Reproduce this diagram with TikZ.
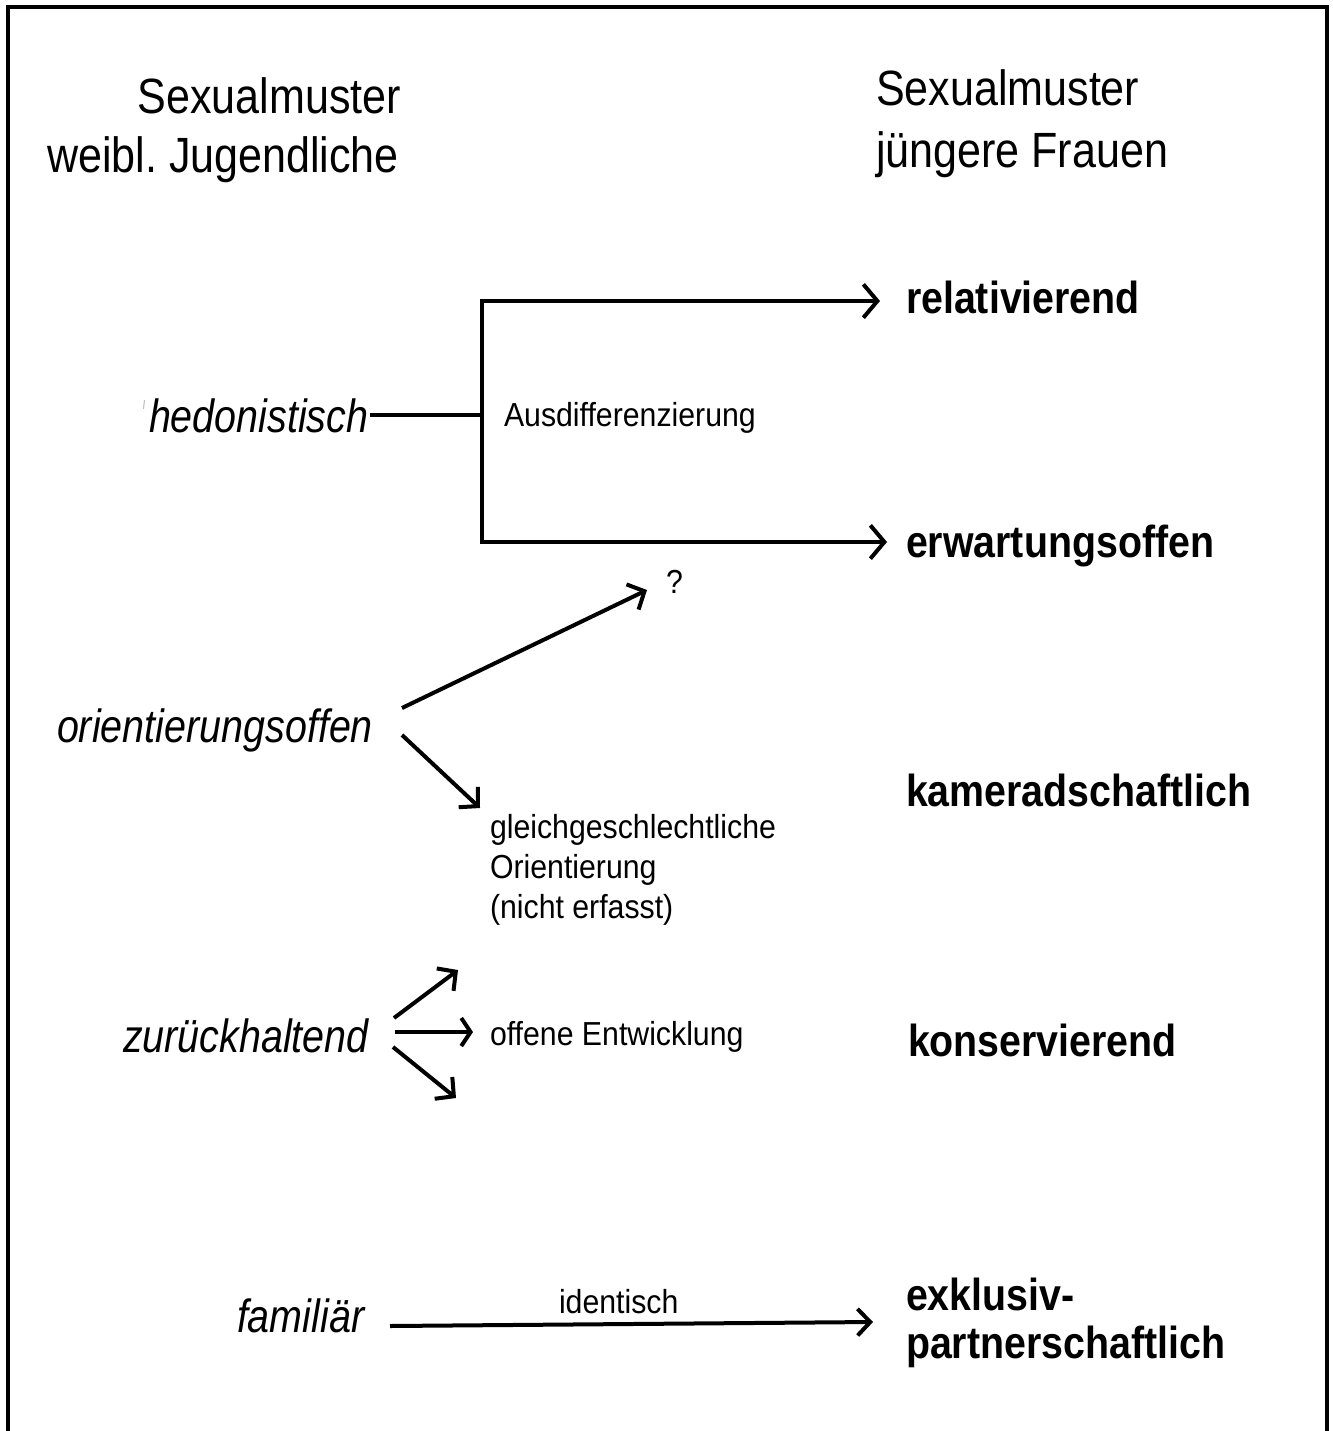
\documentclass[tikz,border=0pt]{standalone}
\usepackage{fontspec}
\setmainfont{Liberation Sans}
\usetikzlibrary{arrows.meta}
\frenchspacing
\begin{document}
\begin{tikzpicture}[x=0.75pt,y=-0.75pt,
  line width=3pt,
  hdr/.style={inner sep=0pt,yscale=1.15,transform shape,font=\fontsize{32.3pt}{38pt}\selectfont},
  lft/.style={inner sep=0pt,yscale=1.18,transform shape,font=\fontsize{29.6pt}{35pt}\selectfont\itshape,anchor=base west},
  rgt/.style={inner sep=0pt,yscale=1.14,transform shape,font=\fontsize{29.5pt}{35pt}\selectfont\bfseries,anchor=base west},
  sml/.style={inner sep=0pt,yscale=1.1,transform shape,font=\fontsize{22.7pt}{27pt}\selectfont,anchor=base west},
  bigtip/.style={-{Straight Barb[length=10.5pt,width=25pt]}},
  ltip/.style={-{Straight Barb[length=10pt,width=21pt]}},
  stip/.style={-{Straight Barb[length=7pt,width=21pt]}},
  ftip/.style={-{Straight Barb[length=9.5pt,width=20pt]}}
]
\useasboundingbox (0,0) rectangle (1333,1431);
% frame
\draw (7.5,1436) -- (7.5,7) -- (1326.5,7) -- (1326.5,1436);

% headers
\node[hdr,anchor=base east] (hl1) at (403,113) {Sexualmuster};
\node[hdr,anchor=base east] (hl2) at (401,172) {weibl. Jugendliche};
\node[hdr,anchor=base west] (hr1) at (874,105) {Sexualmuster};
\node[hdr,anchor=base west] (hr2) at (874,167) {jüngere Frauen};

% left column
\node[lft] (hed) at (147,432) {hedonistisch};
\node[lft] (ori) at (55,742) {orientierungsoffen};
\node[lft] (zur) at (121,1052) {zurückhaltend};
\node[lft] (fam) at (235,1332) {familiär};
\draw[gray!50,line width=0.8pt] (144.5,400) -- (143.5,409);

% right column
\node[rgt] (rel) at (904,313) {relativierend};
\node[rgt] (erw) at (904,557) {erwartungsoffen};
\node[rgt] (kam) at (904,806) {kameradschaftlich};
\node[rgt] (kon) at (906,1056) {konservierend};
\node[rgt] (exk1) at (904,1310) {exklusiv-};
\node[rgt] (exk2) at (904,1358) {partnerschaftlich};

% middle labels
\node[sml] (aus) at (502,426) {Ausdifferenzierung};
\node[sml] (q) at (664,593) {?};
\node[sml] (gl1) at (488,838) {gleichgeschlechtliche};
\node[sml] (gl2) at (488,878) {Orientierung};
\node[sml] (gl3) at (488,918) {(nicht erfasst)};
\node[sml] (off) at (488,1045) {offene Entwicklung};
\node[sml] (ide) at (557,1313) {identisch};

% coordinates
\coordinate (hedR) at (370,415);
\coordinate (fork) at (482,415);
\coordinate (relIn) at (880,301);
\coordinate (erwIn) at (887,542);
\coordinate (oriA) at (402,708);
\coordinate (qIn) at (647,590);
\coordinate (oriB) at (402,735);
\coordinate (glIn) at (480,808);
\coordinate (zA) at (394,1018);
\coordinate (zAe) at (458,970);
\coordinate (zB) at (395,1032);
\coordinate (zBe) at (473,1032);
\coordinate (zC) at (393,1047);
\coordinate (zCe) at (456,1098);
\coordinate (famR) at (390,1326);
\coordinate (famE) at (873,1322);

% connectors
\draw (hedR) -- (fork);
\draw[bigtip] (fork) |- (relIn);
\draw[bigtip] (fork) |- (erwIn);
\draw[ltip] (oriA) -- (qIn);
\draw[ltip] (oriB) -- (glIn);
\draw[ltip] (zA) -- (zAe);
\draw[stip] (zB) -- (zBe);
\draw[ltip] (zC) -- (zCe);
\draw[ftip] (famR) -- (famE);
\end{tikzpicture}
\end{document}
